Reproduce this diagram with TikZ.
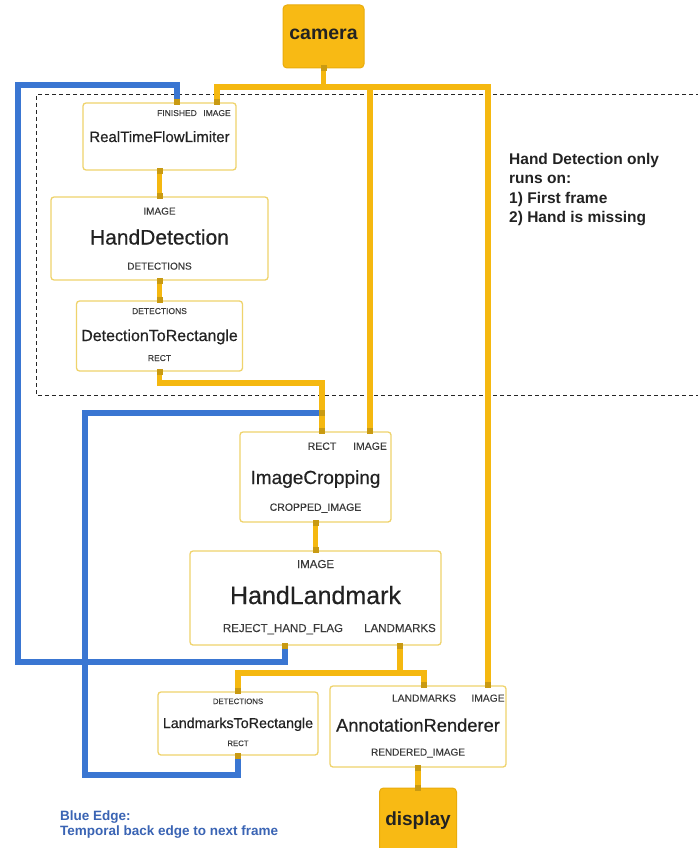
\documentclass[tikz,border=0pt]{standalone}
\usepackage{fontspec}
\setmainfont{Liberation Sans}
\newfontfamily\ttlfont[FakeBold=0.45]{Liberation Sans}
\newfontfamily\lblfont[FakeBold=0.15]{Liberation Sans}
\definecolor{ylw}{HTML}{F5B810}
\definecolor{srcfill}{HTML}{F8BA14}
\definecolor{srcline}{HTML}{E9AC0C}
\definecolor{boxln}{HTML}{EFD36C}
\definecolor{blu}{HTML}{3A76D2}
\definecolor{portc}{HTML}{C99A12}
\definecolor{txt}{HTML}{222222}
\definecolor{ptxt}{HTML}{3A3A3A}
\definecolor{btxt}{HTML}{3A64B4}
\newcommand{\fs}[1]{\fontsize{#1}{#1}\selectfont}
\tikzset{
  blk/.style={draw=boxln, line width=1.3pt, rounded corners=3pt, fill=white, inner sep=0pt},
  srcbox/.style={draw=srcline, line width=1pt, rounded corners=4pt, fill=srcfill, inner sep=0pt},
  yl/.style={draw=ylw, line width=5.5pt, line join=miter},
  bl/.style={draw=blu, line width=5.5pt, line join=miter},
  dregion/.style={draw=black!85, line width=1pt, dash pattern=on 4pt off 3pt},
  portsq/.style={fill=portc, minimum size=6pt, inner sep=0pt},
  lbl/.style={anchor=base, inner sep=0pt, text=ptxt},
  ttl/.style={anchor=base, inner sep=0pt, text=txt},
  note/.style={anchor=base west, inner sep=0pt, text=txt, font=\bfseries\fs{15.5}},
  bnote/.style={anchor=base west, inner sep=0pt, text=btxt, font=\bfseries\fs{13.5}}
}
\begin{document}
\begin{tikzpicture}[x=1pt,y=-1pt]
\useasboundingbox (0,0) rectangle (697,848);
\fill[white] (0,0) rectangle (697,848);

% dashed region (Hand Detection only)
\draw[dregion] (700,95) -- (36,95) -- (36,395) -- (700,395);

% boxes
\node[srcbox, minimum width=81pt, minimum height=63pt] (cam) at (323.5,36.5) {};
\node[blk, minimum width=153pt, minimum height=67pt] (rtfl) at (159.5,136.5) {};
\node[blk, minimum width=217pt, minimum height=83pt] (hd) at (159.5,238.5) {};
\node[blk, minimum width=166pt, minimum height=70pt] (dtr) at (159.5,336) {};
\node[blk, minimum width=151pt, minimum height=90pt] (ic) at (315.5,477) {};
\node[blk, minimum width=251pt, minimum height=94pt] (hl) at (315.5,598) {};
\node[blk, minimum width=160pt, minimum height=63pt] (ltr) at (238,723.5) {};
\node[blk, minimum width=176pt, minimum height=81pt] (ar) at (418,726.5) {};
\node[srcbox, minimum width=77pt, minimum height=66pt] (disp) at (418,821) {};

% ports
\coordinate (rtflFin) at (177,0 |- rtfl.north);
\coordinate (rtflImg) at (217,0 |- rtfl.north);
\coordinate (icRect) at (322,0 |- ic.north);
\coordinate (icImg) at (370,0 |- ic.north);
\coordinate (hlRej) at (285,0 |- hl.south);
\coordinate (hlLm) at (400,0 |- hl.south);
\coordinate (ltrDet) at (ltr.north);
\coordinate (ltrRect) at (ltr.south);
\coordinate (arLm) at (424,0 |- ar.north);
\coordinate (arImg) at (488,0 |- ar.north);

% bends
\coordinate (spC) at (323.5,87);
\coordinate (spL) at (217,87);
\coordinate (spM) at (370,87);
\coordinate (spR) at (488,87);
\coordinate (yK) at (322,383);
\coordinate (yS) at (400,673);
\coordinate (bTL) at (18,85);
\coordinate (bBL) at (18,662);
\coordinate (bJ) at (322,413);
\coordinate (bL2) at (85,775);

% yellow connectors
\draw[yl] (cam.south) -- (spC);
\draw[yl] (rtflImg) -- (spL) -- (spR) -- (arImg);
\draw[yl] (spM) -- (icImg);
\draw[yl] (rtfl.south) -- (hd.north);
\draw[yl] (hd.south) -- (dtr.north);
\draw[yl] (dtr.south) |- (yK) -- (icRect);
\draw[yl] (ic.south) -- (hl.north);
\draw[yl] (hlLm) -- (yS);
\draw[yl] (ltrDet) |- (yS) -| (arLm);
\draw[yl] (ar.south) -- (disp.north);

% blue back edges
\draw[bl] (rtflFin) |- (bTL) -- (bBL) -| (hlRej);
\draw[bl] (bJ) -| (bL2) -| (ltrRect);

% port squares
\node[portsq] (q1) at (cam.south) {};
\node[portsq] (q2) at (rtflFin) {};
\node[portsq] (q3) at (rtflImg) {};
\node[portsq] (q4) at (rtfl.south) {};
\node[portsq] (q5) at (hd.north) {};
\node[portsq] (q6) at (hd.south) {};
\node[portsq] (q7) at (dtr.north) {};
\node[portsq] (q8) at (dtr.south) {};
\node[portsq] (q9) at (bJ) {};
\node[portsq] (q10) at (icRect) {};
\node[portsq] (q11) at (icImg) {};
\node[portsq] (q12) at (ic.south) {};
\node[portsq] (q13) at (hl.north) {};
\node[portsq] (q14) at (hlRej) {};
\node[portsq] (q15) at (hlLm) {};
\node[portsq] (q16) at (ltrDet) {};
\node[portsq] (q17) at (ltrRect) {};
\node[portsq] (q18) at (arLm) {};
\node[portsq] (q19) at (arImg) {};
\node[portsq] (q20) at (ar.south) {};
\node[portsq] (q21) at (disp.north) {};

% texts
\node[ttl, font=\bfseries\fs{19.5}] (tcam) at (323.5,40) {camera};
\node[ttl, font=\bfseries\fs{19}] (tdisp) at (418,825) {display};

\node[lbl, font=\lblfont\fs{8.5}] (t1) at (177,116) {FINISHED};
\node[lbl, font=\lblfont\fs{8.5}] (t2) at (217,116) {IMAGE};
\node[ttl, font=\ttlfont\fs{15}] (t3) at (159.5,142) {RealTimeFlowLimiter};

\node[lbl, font=\lblfont\fs{10}] (t4) at (159.5,214.6) {IMAGE};
\node[ttl, font=\ttlfont\fs{21}] (t5) at (159.5,244.5) {HandDetection};
\node[lbl, font=\lblfont\fs{10}] (t6) at (159.5,269.6) {DETECTIONS};

\node[lbl, font=\lblfont\fs{8.5}] (t7) at (159.5,314) {DETECTIONS};
\node[ttl, font=\ttlfont\fs{16}] (t8) at (159.5,341) {DetectionToRectangle};
\node[lbl, font=\lblfont\fs{8.5}] (t9) at (159.5,361) {RECT};

\node[lbl, font=\lblfont\fs{10.5}] (t10) at (322,449.8) {RECT};
\node[lbl, font=\lblfont\fs{10.5}] (t11) at (370,449.8) {IMAGE};
\node[ttl, font=\ttlfont\fs{19}] (t12) at (315.5,484) {ImageCropping};
\node[lbl, font=\lblfont\fs{10.5}] (t13) at (315.5,510.8) {CROPPED\_IMAGE};

\node[lbl, font=\lblfont\fs{11.5}] (t14) at (315.5,568) {IMAGE};
\node[ttl, font=\ttlfont\fs{25}] (t15) at (315.5,604) {HandLandmark};
\node[lbl, font=\lblfont\fs{11.5}] (t16) at (283,632) {REJECT\_HAND\_FLAG};
\node[lbl, font=\lblfont\fs{11.5}] (t17) at (400,632) {LANDMARKS};

\node[lbl, font=\lblfont\fs{7.8}] (t18) at (238,704) {DETECTIONS};
\node[ttl, font=\ttlfont\fs{14.3}] (t19) at (238,728) {LandmarksToRectangle};
\node[lbl, font=\lblfont\fs{7.8}] (t20) at (238,746) {RECT};

\node[lbl, font=\lblfont\fs{10.3}] (t21) at (424,701.7) {LANDMARKS};
\node[lbl, font=\lblfont\fs{10.3}] (t22) at (488,701.7) {IMAGE};
\node[ttl, font=\ttlfont\fs{18.3}] (t23) at (418,731.6) {AnnotationRenderer};
\node[lbl, font=\lblfont\fs{10}] (t24) at (418,755.6) {RENDERED\_IMAGE};

\node[note] (n1) at (509,164) {Hand Detection only};
\node[note] (n2) at (509,183.5) {runs on:};
\node[note] (n3) at (509,203) {1) First frame};
\node[note] (n4) at (509,222.5) {2) Hand is missing};

\node[bnote] (n5) at (60,820) {Blue Edge:};
\node[bnote] (n6) at (60,835.5) {Temporal back edge to next frame};
\end{tikzpicture}
\end{document}
